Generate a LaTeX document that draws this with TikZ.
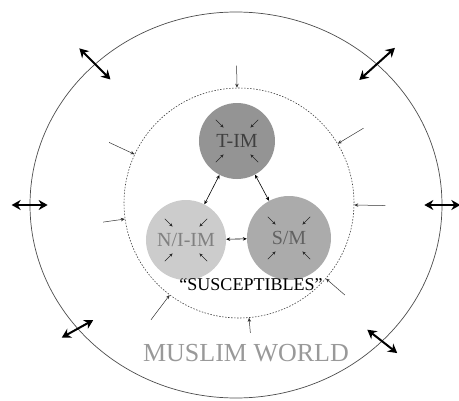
\documentclass[tikz,border=0pt]{standalone}
\usepackage{fontspec}
\setmainfont{Liberation Serif}
\usetikzlibrary{arrows.meta,shapes.geometric}

\begin{document}
\begin{tikzpicture}[>=Stealth, x=1pt, y=1pt,
  group/.style={circle, draw=none, inner sep=0pt, font=\fontsize{20}{20}\selectfont},
  bigarrow/.style={{Stealth[length=9pt,width=10pt]}-{Stealth[length=9pt,width=10pt]}, line width=2pt},
  inarrow/.style={-{Stealth[length=4pt,width=3.5pt]}, line width=0.5pt, black!80},
  smallarrow/.style={-{Stealth[length=3.5pt,width=3pt]}, line width=0.5pt, black!85},
  linkarrow/.style={{Stealth[length=4pt,width=3.5pt]}-{Stealth[length=4pt,width=3.5pt]}, line width=0.6pt}]
  \useasboundingbox (-236,-195) rectangle (223,205);
  % muslim world and the susceptibles
  \node[ellipse, draw=black!70, line width=0.7pt, minimum width=412pt, minimum height=386pt, inner sep=0pt] (world) at (0,0) {};
  \node[circle, draw=black!75, dash pattern=on 1.5pt off 1.5pt, line width=0.6pt, minimum size=230pt, inner sep=0pt] (susc) at (3,2) {};
  % the three groups
  \node[group, fill=black!42, text=black!75, minimum size=76pt] (tim) at (1,64) {T-IM};
  \node[group, fill=black!20, text=black!50, minimum size=80pt] (niim) at (-50,-35) {N/I-IM};
  \node[group, fill=black!33, text=black!62, minimum size=84pt] (sm) at (53,-33) {S/M};
  % labels
  \node[font=\fontsize{18}{18}\selectfont] (susclabel) at (15,-80) {``SUSCEPTIBLES''};
  \node[font=\fontsize{26}{26}\selectfont, text=black!40] (mwlabel) at (10,-148) {MUSLIM WORLD};
  % exchange across the outer border
  \foreach \a/\d/\l in {135/135/22, 45/42/24, 180/180/18, 0/0/18, 218/209/18, 317/322/19}
    \draw[bigarrow] ([shift={(\d:\l)}]world.\a) -- ([shift={(\d+180:\l)}]world.\a);
  % pressure on the susceptibles
  \foreach \a/\l in {91/22, 155/28, 31/30, 188/22, 359/31, 233/31, 275/15, 319/25}
    \draw[inarrow] ([shift={(\a:\l)}]susc.\a) -- (susc.\a);
  % arrows inside each group
  \foreach \g in {tim,niim,sm}
    \foreach \a in {45,135,225,315}
      \draw[smallarrow] ([shift={(\a:30)}]\g.center) -- ([shift={(\a:19)}]\g.center);
  % links between the groups
  \draw[linkarrow] (tim) -- (niim);
  \draw[linkarrow] (tim) -- (sm);
  \draw[linkarrow] (niim) -- (sm);
\end{tikzpicture}
\end{document}
